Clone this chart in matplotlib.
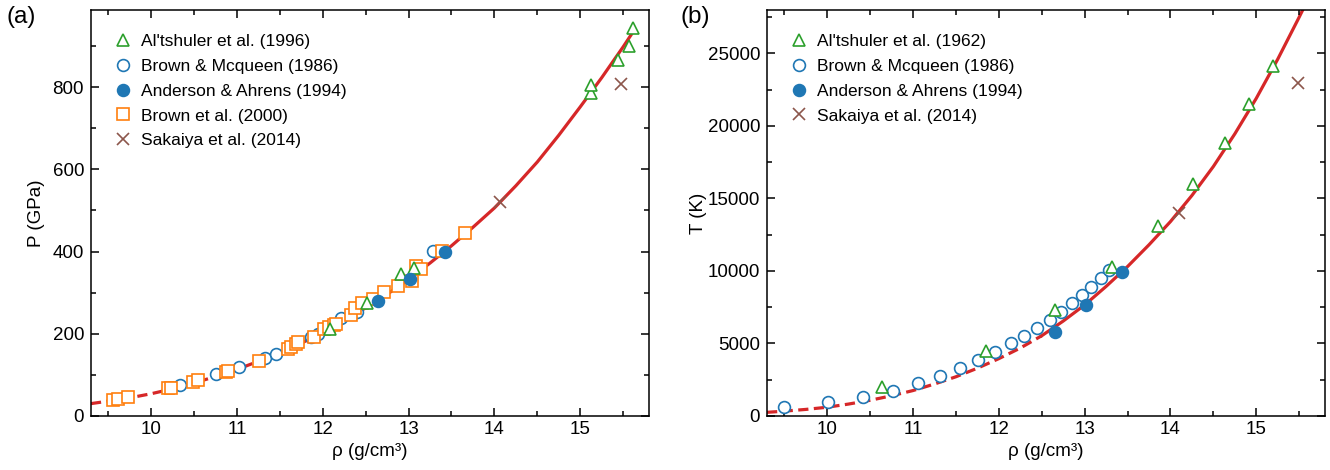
import matplotlib
matplotlib.use("Agg")
import matplotlib.pyplot as plt
from matplotlib.ticker import MultipleLocator
import numpy as np

plt.rcParams['font.family'] = ['Liberation Sans', 'DejaVu Sans']
plt.rcParams['font.size'] = 13

# ---- panel (a): pressure ----
curve_rho_a = [9.3, 9.5, 9.75, 10.0, 10.25, 10.5, 10.75, 11.0, 11.25, 11.5, 11.75, 12.0, 12.25, 12.5,
               12.75, 13.0, 13.25, 13.5, 13.75, 14.0, 14.25, 14.5, 14.75, 15.0, 15.25, 15.5, 15.62]
curve_p = [30, 36, 44, 54, 66, 80, 96, 113, 133, 154, 177, 203, 232, 263,
           296, 332, 372, 414, 459, 506, 560, 618, 683, 752, 823, 898, 936]

alt96_rho = [12.09, 12.52, 12.91, 13.06, 15.12, 15.12, 15.44, 15.57, 15.61]
alt96_p = [212, 274, 346, 360, 785, 805, 866, 900, 945]

bm_rho_a = [10.34, 10.76, 11.03, 11.33, 11.45, 11.86, 11.95, 12.05, 12.21, 12.40, 13.28]
bm_p = [76, 102, 118, 142, 150, 191, 200, 215, 238, 252, 402]

aa_rho_a = [12.64, 13.02, 13.42]
aa_p = [279, 333, 398]

br00_rho = [9.555, 9.61, 9.73, 10.20, 10.23, 10.49, 10.55, 10.87, 10.90, 11.26,
            11.59, 11.63, 11.69, 11.71, 11.90, 12.02, 12.07, 12.13, 12.16, 12.33,
            12.38, 12.46, 12.58, 12.71, 12.88, 13.04, 13.09, 13.15, 13.39, 13.66]
br00_p = [38, 41, 45, 67, 68, 83, 87, 107, 110, 134,
          162, 167, 176, 179, 193, 211, 217, 222, 224, 246,
          263, 274, 285, 301, 315, 329, 366, 358, 402, 445]

sak_rho_a = [14.07, 15.48]
sak_p = [520, 807]

# ---- panel (b): temperature ----
curve_rho_b = [9.3, 9.5, 9.75, 10.0, 10.25, 10.5, 10.75, 11.0, 11.25, 11.5, 11.75, 12.0, 12.25, 12.5,
               12.75, 13.0, 13.25, 13.5, 13.75, 14.0, 14.25, 14.5, 14.75, 15.0, 15.25, 15.5, 15.6]
curve_t = [250, 330, 450, 600, 820, 1080, 1390, 1750, 2200, 2700, 3290, 3950, 4680, 5530,
           6540, 7650, 8930, 10300, 11800, 13400, 15200, 17200, 19450, 21900, 24600, 27500, 28700]

alt62_rho = [10.64, 11.85, 12.66, 13.32, 13.85, 14.26, 14.63, 14.92, 15.19]
alt62_t = [2020, 4500, 7300, 10260, 13100, 16000, 18850, 21520, 24140]

bm_rho_b = [9.50, 10.01, 10.42, 10.77, 11.06, 11.31, 11.55, 11.76, 11.96, 12.14,
            12.29, 12.45, 12.60, 12.73, 12.85, 12.97, 13.08, 13.19, 13.29]
bm_t = [640, 940, 1330, 1750, 2250, 2760, 3290, 3860, 4390, 5000,
        5520, 6050, 6600, 7200, 7800, 8350, 8900, 9500, 10050]

aa_rho_b = [12.65, 13.02, 13.43]
aa_t = [5810, 7660, 9950]

sak_rho_b = [14.10, 15.49]
sak_t = [13980, 22990]

rho_split = 12.5

red = '#d62728'
green = '#2ca02c'
blue = '#1f77b4'
orange = '#ff7f0e'
brown = '#8c564b'


def draw_curve(ax, rho, val):
    rho = np.array(rho)
    val = np.array(val)
    lo = rho <= rho_split
    hi = rho >= rho_split
    ax.plot(rho[lo], val[lo], color=red, lw=2.3, ls=(0, (3.2, 1.7)), zorder=1)
    ax.plot(rho[hi], val[hi], color=red, lw=2.3, zorder=1)


def style(ax):
    ax.set_xlim(9.3, 15.8)
    ax.xaxis.set_major_locator(MultipleLocator(1))
    ax.xaxis.set_minor_locator(MultipleLocator(0.5))
    ax.tick_params(which='both', direction='in', top=True, right=True, labelsize=13.5)
    ax.tick_params(which='major', length=6, width=1.1)
    ax.tick_params(which='minor', length=3.5, width=1.1)
    ax.tick_params(axis='y', pad=5)
    for s in ax.spines.values():
        s.set_linewidth(1.1)
    ax.set_xlabel('ρ (g/cm³)', fontsize=13.5, labelpad=4)


fig = plt.figure(figsize=(13.3, 4.7), dpi=100)
ax1 = fig.add_axes([0.0684, 0.115, 0.4195, 0.864])
ax2 = fig.add_axes([0.5767, 0.115, 0.4195, 0.864])

mk = dict(ls='none', markersize=8.5, markeredgewidth=1.2)
leg = dict(loc='upper left', bbox_to_anchor=(0.0215, 0.957), frameon=False, fontsize=12.5,
           handletextpad=0.3, labelspacing=0.55, borderaxespad=0, handlelength=1.5)

draw_curve(ax1, curve_rho_a, curve_p)
ax1.plot(alt96_rho, alt96_p, marker='^', mec=green, mfc='white', label="Al'tshuler et al. (1996)", zorder=4, **mk)
ax1.plot(bm_rho_a, bm_p, marker='o', mec=blue, mfc='white', label='Brown & Mcqueen (1986)', zorder=2, **mk)
ax1.plot(aa_rho_a, aa_p, marker='o', mec=blue, mfc=blue, label='Anderson & Ahrens (1994)', zorder=5, **mk)
ax1.plot(br00_rho, br00_p, marker='s', mec=orange, mfc='white', label='Brown et al. (2000)', zorder=3, **mk)
ax1.plot(sak_rho_a, sak_p, marker='x', mec=brown, label='Sakaiya et al. (2014)', zorder=6, **mk)
style(ax1)
ax1.set_ylim(0, 988)
ax1.yaxis.set_major_locator(MultipleLocator(200))
ax1.yaxis.set_minor_locator(MultipleLocator(100))
ax1.set_ylabel('P (GPa)', fontsize=13.5)
ax1.yaxis.set_label_coords(-0.083, 0.5)
ax1.legend(**leg)

draw_curve(ax2, curve_rho_b, curve_t)
ax2.plot(alt62_rho, alt62_t, marker='^', mec=green, mfc='white', label="Al'tshuler et al. (1962)", zorder=4, **mk)
ax2.plot(bm_rho_b, bm_t, marker='o', mec=blue, mfc='white', label='Brown & Mcqueen (1986)', zorder=2, **mk)
ax2.plot(aa_rho_b, aa_t, marker='o', mec=blue, mfc=blue, label='Anderson & Ahrens (1994)', zorder=5, **mk)
ax2.plot(sak_rho_b, sak_t, marker='x', mec=brown, label='Sakaiya et al. (2014)', zorder=6, **mk)
style(ax2)
ax2.set_ylim(0, 28000)
ax2.yaxis.set_major_locator(MultipleLocator(5000))
ax2.yaxis.set_minor_locator(MultipleLocator(2500))
ax2.set_ylabel('T (K)', fontsize=13.5)
ax2.yaxis.set_label_coords(-0.108, 0.5)
ax2.legend(**leg)

fig.text(0.005, 0.987, '(a)', fontsize=17.5, va='top', ha='left')
fig.text(0.512, 0.987, '(b)', fontsize=17.5, va='top', ha='left')

fig.savefig('out.png', dpi=100)
